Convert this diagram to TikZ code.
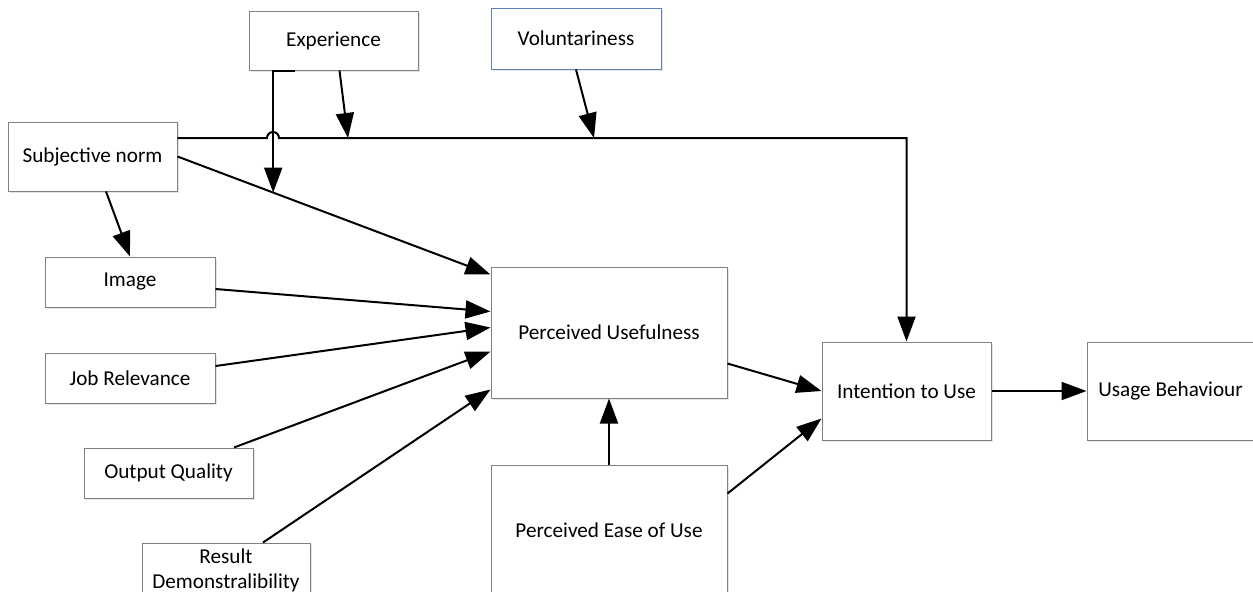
\documentclass[tikz,border=0pt]{standalone}
\usepackage{fontspec}
\setmainfont{Carlito}
\usetikzlibrary{arrows.meta,shadows,calc}
\definecolor{volblue}{RGB}{95,128,190}
\definecolor{boxgray}{RGB}{128,128,128}
\begin{document}
\begin{tikzpicture}[x=0.5pt,y=-0.5pt,
  box/.style={draw=boxgray, line width=0.5pt, fill=white, inner sep=0pt,
    font=\fontsize{10.6pt}{13pt}\selectfont,
    drop shadow={shadow xshift=1pt,shadow yshift=-1pt,opacity=0.3,fill=black!35}},
  lbl/.style={inner sep=0pt, align=center, font=\fontsize{10.6pt}{12.5pt}\selectfont},
  arr/.style={line width=1pt, -{Triangle[length=12.5pt,width=9pt]}}]
\useasboundingbox (0,0) rectangle (1253,591);
\clip (0,0) rectangle (1253,591);
\fill[white] (0,0) rectangle (1253,591);

% nodes
\node[box, minimum width=84.5pt, minimum height=29.5pt] (exp) at (333.5,40.5) {Experience};
\node[box, draw=volblue, minimum width=85pt, minimum height=30.5pt] (vol) at (576,38.5) {Voluntariness};
\node[box, minimum width=84.5pt, minimum height=34.5pt] (sn) at (92.5,156.5) {Subjective norm};
\node[box, minimum width=85pt, minimum height=25pt] (img) at (130,282) {Image};
\node[box, minimum width=85pt, minimum height=25pt] (jr) at (130,378) {Job Relevance};
\node[box, minimum width=84.5pt, minimum height=25pt] (oq) at (168.5,473) {Output Quality};
\node[box, minimum width=84pt, minimum height=35pt] (rd) at (226,578) {};
\node[lbl] (rdt) at (226,570) {Result\\Demonstralibility};
\node[box, minimum width=118pt, minimum height=65.5pt] (pu) at (609,332.5) {Perceived Usefulness};
\node[box, minimum width=118pt, minimum height=65pt] (peu) at (609,530) {Perceived Ease of Use};
\node[box, minimum width=84.5pt, minimum height=49pt] (itu) at (906.5,391) {Intention to Use};
\node[box, minimum width=120pt, minimum height=49pt] (ub) at (1207,391) {\hspace*{-36.5pt}Usage Behaviour};

% helper coordinates
\coordinate (lineY) at (0,138);
\coordinate (puin1) at ([yshift=-4pt]pu.north west);
\coordinate (m1) at ($(sn.east)!0.3057!(puin1)$);
\coordinate (hopL) at (267,138);
\coordinate (m2) at (348,138);
\coordinate (m3) at (594,138);

% subjective norm -> intention (with hop)
\draw[arr] (sn.east |- lineY) -- (hopL) arc[start angle=180,end angle=0,radius=3pt]
  -- (itu.north |- lineY) -- (itu.north);

% experience moderators
\draw[arr] ([xshift=23pt]exp.south west) -- (m1 |- exp.south) -- (m1);
\draw[arr] ([xshift=3pt]exp.south) -- (m2);
% voluntariness moderator
\draw[arr] (vol.south) -- (m3);

% into perceived usefulness
\draw[arr] ([xshift=6.75pt]sn.south) -- (img.north);
\draw[arr] (sn.east) -- (puin1);
\draw[arr] ([yshift=-3.5pt]img.east) -- ([yshift=-22.5pt]pu.north west);
\draw[arr] ([yshift=6pt]jr.east) -- ([yshift=-30.5pt]pu.north west);
\draw[arr] ([xshift=32.75pt]oq.north) -- ([yshift=-42.5pt]pu.north west);
\draw[arr] ([xshift=18.5pt]rd.north) -- ([yshift=-61.5pt]pu.north west);

% right part
\draw[arr] (peu.north) -- (pu.south);
\draw[arr] ([yshift=-48.5pt]pu.north east) -- (itu.west);
\draw[arr] ([yshift=-14.5pt]peu.north east) -- ([yshift=-38.5pt]itu.north west);
\draw[arr] (itu.east) -- (ub.west);
\end{tikzpicture}
\end{document}
